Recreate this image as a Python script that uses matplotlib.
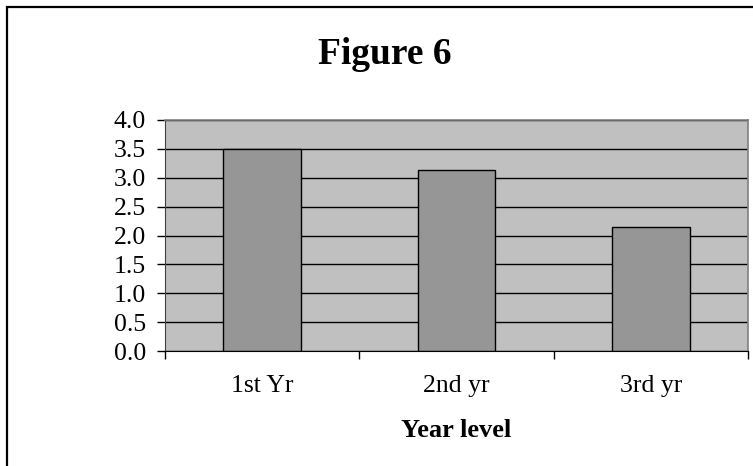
import matplotlib.pyplot as plt
from matplotlib.patches import Rectangle
import numpy as np

# ===== Data =====
year_levels = ["1st Yr", "2nd yr", "3rd yr"]
scores = [3.50, 3.14, 2.14]
y_ticks = [0.0, 0.5, 1.0, 1.5, 2.0, 2.5, 3.0, 3.5, 4.0]

# ===== Styling =====
font_name = "Liberation Serif"
plot_bg = "#C0C0C0"
bar_color = "#969696"
W, H = 753, 466

fig = plt.figure(figsize=(W / 100, H / 100), dpi=100)
fig.patch.set_facecolor("white")

# outer chart border (runs off the right/bottom of the picture)
fig.patches.append(Rectangle((7 / W, -0.1), 1.2, 1 - 7 / H + 0.1,
                             transform=fig.transFigure, fill=False,
                             edgecolor="black", linewidth=1.6))

ax = fig.add_axes([165 / W, 115 / H, (748 - 165) / W, (351 - 120) / H])
ax.set_facecolor(plot_bg)

x = np.arange(len(year_levels))
ax.bar(x, scores, width=0.4, color=bar_color, edgecolor="black",
       linewidth=1.0, zorder=3)

# ===== Axes =====
ax.set_xlim(-0.5, len(year_levels) - 0.5)
ax.set_ylim(0, 4.0)
ax.set_yticks(y_ticks)
ax.set_yticklabels([f"{v:.1f}" for v in y_ticks], fontsize=18.5, fontname=font_name)
ax.set_xticks(x)
ax.set_xticklabels(year_levels, fontsize=18.5, fontname=font_name)
ax.set_xticks(np.arange(-0.5, len(year_levels)), minor=True)

ax.tick_params(axis="x", which="major", length=0, pad=17)
ax.tick_params(axis="x", which="minor", length=5.5, width=1, direction="out")
ax.tick_params(axis="y", which="major", length=5.5, width=1, pad=8)

ax.grid(axis="y", color="black", linewidth=1.0, zorder=1)
ax.set_axisbelow(True)

for side in ["top", "right"]:
    ax.spines[side].set_color("#808080")
    ax.spines[side].set_linewidth(1.2)
ax.spines["left"].set_color("#404040")
ax.spines["bottom"].set_color("black")
for spine in ax.spines.values():
    spine.set_zorder(4)

# ===== Titles =====
fig.text(385 / W, 1 - 64 / H, "Figure 6", ha="center", va="baseline",
         fontsize=27, fontweight="bold", fontname=font_name)
fig.text(456.5 / W, 1 - 437 / H, "Year level", ha="center", va="baseline",
         fontsize=19, fontweight="bold", fontname=font_name)

plt.savefig("out.png", dpi=100)
